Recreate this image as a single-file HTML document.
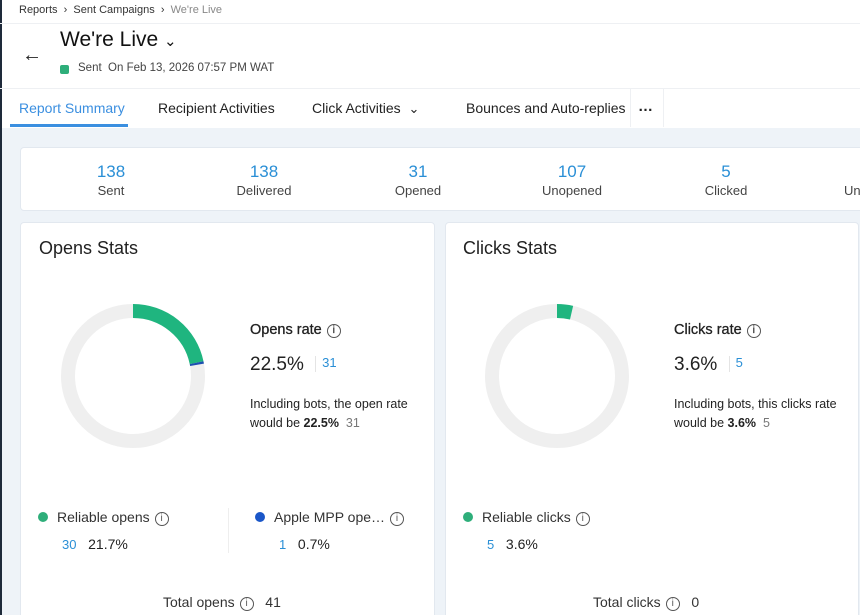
<!DOCTYPE html>
<html><head><meta charset="utf-8"><style>
*{margin:0;padding:0;box-sizing:border-box}
html,body{width:860px;height:615px;overflow:hidden}
body{background:#eef3f8;font-family:"Liberation Sans",sans-serif;color:#222;position:relative}
.a{position:absolute;white-space:nowrap}
.top{position:absolute;left:0;top:0;width:860px;height:128px;background:#fff}
.lb{position:absolute;left:0;top:0;width:2px;height:615px;background:#1e2a3a}
.card{position:absolute;background:#fff;border:1px solid #e2e8ef;border-radius:4px}
.blue{color:#2a8fd6}
.c{text-align:center;transform:translateX(-50%)}
.info{display:inline-block;width:14px;height:14px;border:1.3px solid #555;border-radius:50%;font-size:10px;line-height:11px;text-align:center;vertical-align:1px;color:#555;margin-left:5px;font-weight:normal}
.dot{display:inline-block;width:10px;height:10px;border-radius:50%;margin-right:9px;vertical-align:0}
</style></head><body>
<div class="top"></div>
<div class="lb"></div>
<div class="a" style="left:19px;top:4px;font-size:11px;color:#333">Reports &nbsp;›&nbsp; Sent Campaigns &nbsp;›&nbsp; <span style="color:#888">We're Live</span></div>
<div class="a" style="left:0;top:23px;width:860px;height:1px;background:#eef0f3"></div>
<div class="a" style="left:22px;top:44px;font-size:20px">←</div>
<div class="a" style="left:60px;top:28px;font-size:21px;color:#111">We're Live <span style="font-size:15px">⌄</span></div>
<div class="a" style="left:60px;top:65px;width:9px;height:9px;background:#2eae7a;border-radius:2px"></div>
<div class="a" style="left:78px;top:62px;font-size:11.5px;color:#444">Sent &nbsp;On Feb 13, 2026 07:57 PM WAT</div>
<div class="a" style="left:0;top:88px;width:860px;height:1px;background:#eef0f3"></div>
<div class="a" style="left:19px;top:100px;font-size:14px;color:#3b8fe0">Report Summary</div>
<div class="a" style="left:10px;top:124px;width:118px;height:3px;background:#3b8fe0"></div>
<div class="a" style="left:158px;top:100px;font-size:14px">Recipient Activities</div>
<div class="a" style="left:312px;top:100px;font-size:14px">Click Activities &nbsp;<span style="font-size:13px">⌄</span></div>
<div class="a" style="left:466px;top:100px;font-size:14px">Bounces and Auto-replies</div>
<div class="a" style="left:630px;top:89px;width:1px;height:38px;background:#eef0f3"></div>
<div class="a" style="left:663px;top:89px;width:1px;height:38px;background:#eef0f3"></div>
<div class="a" style="left:638px;top:98px;font-size:15px;font-weight:bold">…</div>

<div class="card" style="left:20px;top:147px;width:850px;height:64px"></div>
<div class="a c blue" style="left:111px;top:162px;font-size:17px">138</div><div class="a c" style="left:111px;top:183px;font-size:13px;color:#444">Sent</div>
<div class="a c blue" style="left:264px;top:162px;font-size:17px">138</div><div class="a c" style="left:264px;top:183px;font-size:13px;color:#444">Delivered</div>
<div class="a c blue" style="left:418px;top:162px;font-size:17px">31</div><div class="a c" style="left:418px;top:183px;font-size:13px;color:#444">Opened</div>
<div class="a c blue" style="left:572px;top:162px;font-size:17px">107</div><div class="a c" style="left:572px;top:183px;font-size:13px;color:#444">Unopened</div>
<div class="a c blue" style="left:726px;top:162px;font-size:17px">5</div><div class="a c" style="left:726px;top:183px;font-size:13px;color:#444">Clicked</div>
<div class="a" style="left:844px;top:183px;font-size:13px;color:#444">Un</div>

<div class="card" style="left:20px;top:222px;width:415px;height:420px"></div>
<div class="card" style="left:445px;top:222px;width:414px;height:420px"></div>
<div class="a" style="left:39px;top:238px;font-size:18px">Opens Stats</div>
<div class="a" style="left:463px;top:238px;font-size:18px">Clicks Stats</div>

<svg class="a" style="left:0;top:0" width="860" height="615">
<g transform="rotate(-90 133 376)" fill="none" stroke-width="14">
<circle cx="133" cy="376" r="65" stroke="#efefef"/>
<circle cx="133" cy="376" r="65" stroke="#1fb57f" stroke-dasharray="88.6 400"/>
<circle cx="133" cy="376" r="65" stroke="#1d4fb0" stroke-dasharray="0 88.6 2.2 400"/>
</g>
<g transform="rotate(-90 557 376)" fill="none" stroke-width="14">
<circle cx="557" cy="376" r="65" stroke="#efefef"/>
<circle cx="557" cy="376" r="65" stroke="#1fb57f" stroke-dasharray="14.7 400"/>
</g>
</svg>

<div class="a" style="left:250px;top:322px;font-size:14.5px;color:#222;-webkit-text-stroke:0.3px #222">Opens rate<span class="info">i</span></div>
<div class="a" style="left:250px;top:354px;font-size:19px">22.5% <span style="display:inline-block;width:1px;height:16px;background:#e4e4e4;margin:0 6px;vertical-align:-2px"></span><span class="blue" style="font-size:13px;vertical-align:3px">31</span></div>
<div class="a" style="left:250px;top:395px;font-size:12.5px;line-height:19px;color:#222">Including bots, the open rate<br>would be <b>22.5%</b> &nbsp;<span style="color:#777">31</span></div>

<div class="a" style="left:674px;top:322px;font-size:14.5px;color:#222;-webkit-text-stroke:0.3px #222">Clicks rate<span class="info">i</span></div>
<div class="a" style="left:674px;top:354px;font-size:19px">3.6% <span style="display:inline-block;width:1px;height:16px;background:#e4e4e4;margin:0 6px;vertical-align:-2px"></span><span class="blue" style="font-size:13px;vertical-align:3px">5</span></div>
<div class="a" style="left:674px;top:395px;font-size:12.5px;line-height:19px;color:#222">Including bots, this clicks rate<br>would be <b>3.6%</b> &nbsp;<span style="color:#777">5</span></div>

<div class="a" style="left:38px;top:509px;font-size:14px;color:#333"><span class="dot" style="background:#2eae7a"></span>Reliable opens<span class="info">i</span></div>
<div class="a" style="left:62px;top:536px;font-size:14px"><span class="blue" style="font-size:13px">30</span>&nbsp;&nbsp; 21.7%</div>
<div class="a" style="left:228px;top:508px;width:1px;height:45px;background:#eee"></div>
<div class="a" style="left:255px;top:509px;font-size:14px;color:#333"><span class="dot" style="background:#1a56c8"></span>Apple MPP ope…<span class="info">i</span></div>
<div class="a" style="left:279px;top:536px;font-size:14px"><span class="blue" style="font-size:13px">1</span>&nbsp;&nbsp; 0.7%</div>
<div class="a" style="left:163px;top:594px;font-size:14px;color:#333">Total opens<span class="info">i</span> &nbsp; 41</div>

<div class="a" style="left:463px;top:509px;font-size:14px;color:#333"><span class="dot" style="background:#2eae7a"></span>Reliable clicks<span class="info">i</span></div>
<div class="a" style="left:487px;top:536px;font-size:14px"><span class="blue" style="font-size:13px">5</span>&nbsp;&nbsp; 3.6%</div>
<div class="a" style="left:593px;top:594px;font-size:14px;color:#333">Total clicks<span class="info">i</span> &nbsp; 0</div>
</body></html>
